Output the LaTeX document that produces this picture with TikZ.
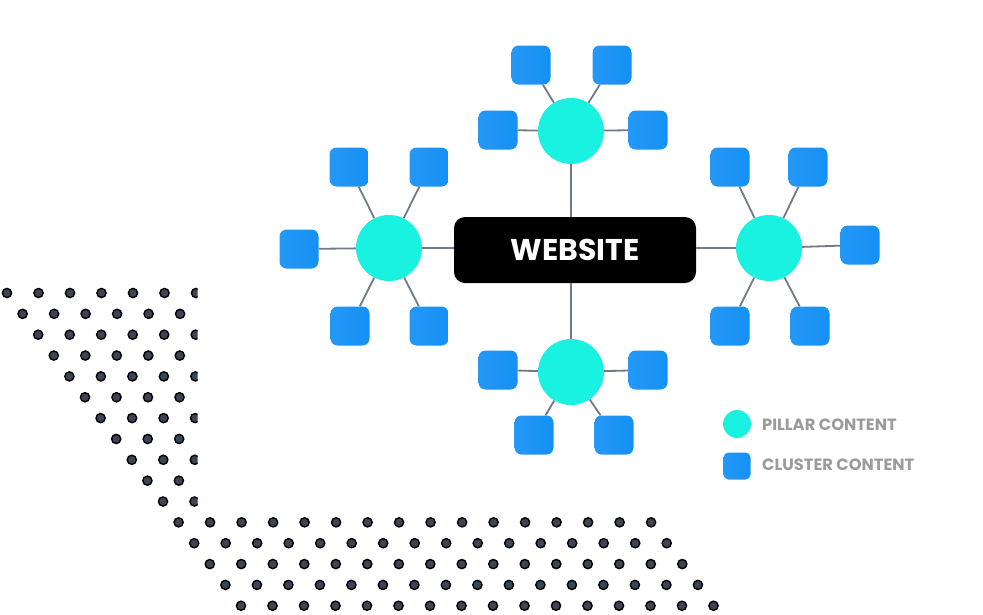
\documentclass[tikz,border=0pt]{standalone}
\usepackage{fontspec}
\setmainfont{Poppins}
\definecolor{cyanP}{HTML}{19F2E0}
\definecolor{blueL}{HTML}{2598F6}
\definecolor{blueD}{HTML}{1490F5}
\definecolor{lineC}{HTML}{717A8A}
\definecolor{dotC}{HTML}{3D4455}
\definecolor{legC}{HTML}{9B9B9B}
\begin{document}
\begin{tikzpicture}[x=1pt,y=-1pt,
  pillar/.style={circle, fill=cyanP, minimum size=66pt, inner sep=0pt},
  cluster/.style={rounded corners=7pt, minimum size=39pt, inner sep=0pt, left color=blueL, right color=blueD},
  link/.style={draw=lineC, line width=1.8pt},
  dotc/.style={fill=dotC, draw=black, line width=1.4pt},
  legtext/.style={anchor=west, text=legC, font=\bfseries\fontsize{16.3}{16.3}\selectfont, inner sep=0pt}]
\useasboundingbox (0,0) rectangle (983,614);

% dot pattern
\begin{scope}
  \clip (0,280) rectangle (197.5,512);
  \foreach \j in {0,...,10}{
    \foreach \i in {0,...,6}{
      \filldraw[dotc] ({7+15.6*\j+31.5*\i},{293+20.85*\j}) circle (4.6pt);
    }
  }
\end{scope}
\foreach \j in {11,...,15}{
  \foreach \i in {0,...,15}{
    \filldraw[dotc] ({7+15.6*\j+31.5*\i},{293+20.85*\j}) circle (4.6pt);
  }
}

% center
\node[fill=black, rounded corners=11pt, minimum width=242pt, minimum height=66pt, text=white,
      font=\bfseries\fontsize{30}{30}\selectfont] (web) at (575,250) {WEBSITE};

% pillars
\node[pillar] (pT) at (571,131) {};
\node[pillar] (pB) at (571,372) {};
\node[pillar] (pL) at (389,248) {};
\node[pillar] (pR) at (769,248) {};

% clusters top
\node[cluster] (t1) at (531,65) {};
\node[cluster] (t2) at (612,65) {};
\node[cluster] (t3) at (498,130) {};
\node[cluster] (t4) at (648,130) {};
% clusters left
\node[cluster] (l1) at (349,167) {};
\node[cluster] (l2) at (429,167) {};
\node[cluster] (l3) at (299,249) {};
\node[cluster] (l4) at (350,326) {};
\node[cluster] (l5) at (429,326) {};
% clusters right
\node[cluster] (r1) at (730,167) {};
\node[cluster] (r2) at (808,167) {};
\node[cluster] (r3) at (860,245) {};
\node[cluster] (r4) at (730,326) {};
\node[cluster] (r5) at (810,326) {};
% clusters bottom
\node[cluster] (b1) at (498,370) {};
\node[cluster] (b2) at (648,370) {};
\node[cluster] (b3) at (534,435) {};
\node[cluster] (b4) at (614,435) {};

% links
\foreach \a/\b in {pT/t1,pT/t2,pT/t3,pT/t4,pL/l1,pL/l2,pL/l3,pL/l4,pL/l5,pR/r1,pR/r2,pR/r3,pR/r4,pR/r5,pB/b1,pB/b2,pB/b3,pB/b4}{
  \draw[link] (\a) -- (\b);
}
\draw[link] (pT) -- (pT |- web.north);
\draw[link] (pB) -- (pB |- web.south);
\draw[link] (pL) -- (web.west |- pL);
\draw[link] (pR) -- (web.east |- pR);

% legend
\node[circle, fill=cyanP, minimum size=28pt, inner sep=0pt] (lgP) at (737,424) {};
\node[rounded corners=5pt, minimum size=27pt, inner sep=0pt, left color=blueL, right color=blueD] (lgC) at (737,466) {};
\node[legtext] (lgPt) at (762,425) {PILLAR CONTENT};
\node[legtext] (lgCt) at (762,465) {CLUSTER CONTENT};
\end{tikzpicture}
\end{document}
